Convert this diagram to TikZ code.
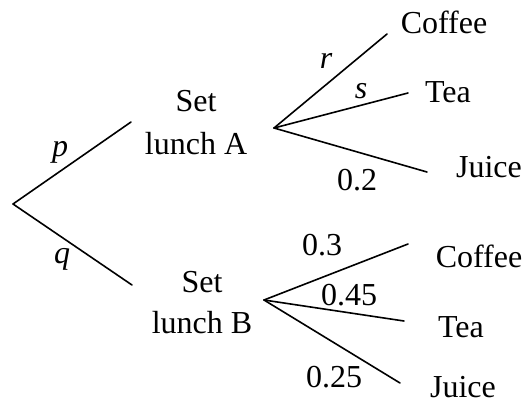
\documentclass[tikz,border=0pt]{standalone}
\usepackage{fontspec}
\setmainfont{Liberation Serif}
\begin{document}
\begin{tikzpicture}[x=1pt,y=-1pt,
  branch/.style={line width=1.6pt, line cap=round},
  lab/.style={anchor=base, inner sep=0pt, font=\fontsize{32}{36}\selectfont},
  ilab/.style={lab, font=\fontsize{32}{36}\selectfont\itshape}]
\useasboundingbox (0,0) rectangle (530,405);
% branch points
\coordinate (root) at (13,204);
\coordinate (aend) at (131,122);
\coordinate (bend) at (132,285);
\coordinate (aj) at (274,128);
\coordinate (bj) at (264,300);
\coordinate (ac) at (387,34);
\coordinate (at) at (408,93);
\coordinate (aju) at (427,172);
\coordinate (bc) at (408,244);
\coordinate (bt) at (404,321);
\coordinate (bju) at (400,383);
% texts
\node[lab] (setA) at (196,111) {Set};
\node[lab] (lunchA) at (196,154) {lunch A};
\node[lab] (setB) at (202,292) {Set};
\node[lab] (lunchB) at (202,333) {lunch B};
\node[lab] (coffA) at (444,33) {Coffee};
\node[lab] (teaA) at (448,102) {Tea};
\node[lab] (juiA) at (489,177) {Juice};
\node[lab] (coffB) at (479,267) {Coffee};
\node[lab] (teaB) at (461,337) {Tea};
\node[lab] (juiB) at (463,397) {Juice};
\node[ilab] (p) at (60,156) {p};
\node[ilab] (q) at (62,263) {q};
\node[ilab] (r) at (326,68) {r};
\node[ilab] (s) at (361,98) {s};
\node[lab] (l02) at (357,190) {0.2};
\node[lab] (l03) at (322,255) {0.3};
\node[lab] (l045) at (349,305) {0.45};
\node[lab] (l025) at (334,387) {0.25};
% connectors
\draw[branch] (root) -- (aend);
\draw[branch] (root) -- (bend);
\draw[branch] (aj) -- (ac);
\draw[branch] (aj) -- (at);
\draw[branch] (aj) -- (aju);
\draw[branch] (bj) -- (bc);
\draw[branch] (bj) -- (bt);
\draw[branch] (bj) -- (bju);
\end{tikzpicture}
\end{document}
